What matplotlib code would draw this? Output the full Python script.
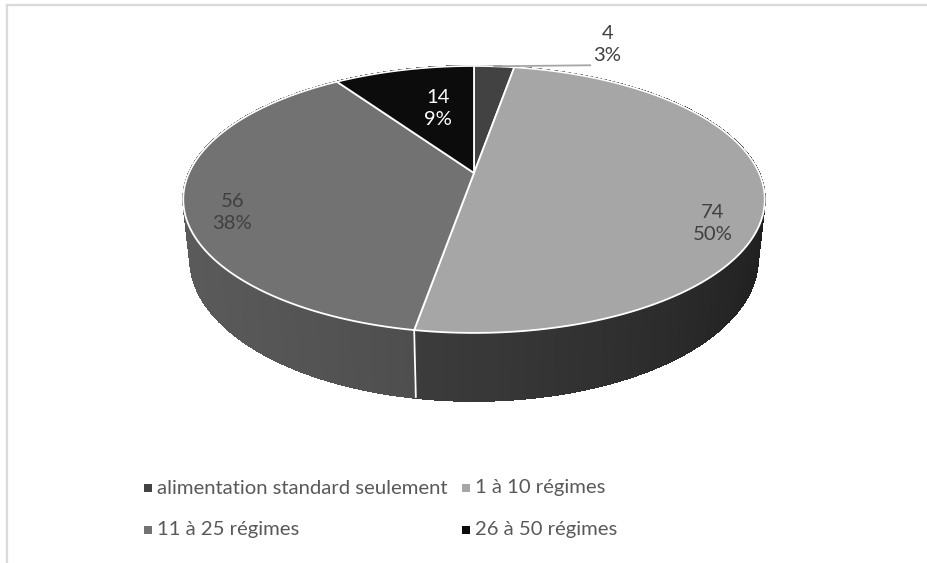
import numpy as np
import matplotlib
matplotlib.use('Agg')
import matplotlib.pyplot as plt
from matplotlib.collections import PolyCollection
from matplotlib.patches import Polygon
from matplotlib.lines import Line2D

# ---------------- data ----------------
categories = ['alimentation standard seulement', '1 à 10 régimes',
              '11 à 25 régimes', '26 à 50 régimes']
values = [4, 74, 56, 14]

# ---------------- styles ----------------
top_colors = ['#424242', '#a6a6a6', '#727272', '#0c0c0c']
side_base = [40, 50, 68, 10]          # grey level of slice side (0-255)
label_colors = ['#404040', '#404040', '#404040', 'white']
label_offsets = [(0, 0), (8, 33), (-11, 17), (22, 21)]
FONT = 'Lato'
plt.rcParams['font.family'] = [FONT, 'DejaVu Sans']

W, H = 928, 563
fig = plt.figure(figsize=(W / 100, H / 100), dpi=100)
ax = fig.add_axes([0, 0, 1, 1])
ax.set_xlim(0, W)
ax.set_ylim(H, 0)
ax.axis('off')

# 3D perspective geometry of the pie
cx, cy, R = 474, 173, 285
sinE = 0.45
E = np.arcsin(sinE)
cosE = np.cos(E)
D = cosE / 0.198
TH = 0.235


def proj(theta, r=1.0, z=0.0):
    x = r * np.sin(theta)
    y = r * np.cos(theta)
    up = y * sinE + z * cosE
    depth = y * cosE - z * sinE
    s = D / (D + depth)
    return cx + R * x * s, cy - R * up * s


total = float(sum(values))
bounds = np.concatenate([[0], np.cumsum(values)]) / total * 2 * np.pi

# ---- sides ----
quads, qcols, qdepth = [], [], []
for i in range(len(values)):
    a0, a1 = bounds[i], bounds[i + 1]
    n = max(4, int((a1 - a0) / (2 * np.pi) * 300))
    th = np.linspace(a0, a1, n + 1)
    for j in range(n):
        t0, t1 = th[j], th[j + 1]
        p = [proj(t0), proj(t1), proj(t1, 1, -TH), proj(t0, 1, -TH)]
        tm = 0.5 * (t0 + t1)
        nx, ny = np.sin(tm), np.cos(tm)
        dot = -nx * 0.96 - ny * 0.3
        g = np.clip(side_base[i] + 22 * dot, 0, 255) / 255.0
        quads.append(p)
        qcols.append((g, g, g))
        qdepth.append(np.cos(tm))
order = np.argsort(qdepth)[::-1]
pc = PolyCollection([quads[k] for k in order], facecolors=[qcols[k] for k in order],
                    edgecolors=[qcols[k] for k in order], linewidths=0.8,
                    antialiaseds=False)
ax.add_collection(pc)

# seams on the visible side
for b in bounds[1:-1]:
    if np.cos(b) < 0:
        x0, y0 = proj(b)
        x1, y1 = proj(b, 1, -TH)
        ax.plot([x0, x1], [y0, y1], color='white', lw=1.3, solid_capstyle='butt')

# ---- tops ----
for i in range(len(values)):
    a0, a1 = bounds[i], bounds[i + 1]
    th = np.linspace(a0, a1, max(3, int((a1 - a0) * 80)))
    pts = [proj(0, 0)] + [proj(t) for t in th]
    ax.add_patch(Polygon(pts, closed=True, facecolor=top_colors[i],
                         edgecolor='white', lw=1.3, joinstyle='round'))

# ---- labels ----
fs = 14.6
for i in range(len(values)):
    mid = 0.5 * (bounds[i] + bounds[i + 1])
    pct = int(round(values[i] / total * 100))
    txt = f'{values[i]}\n{pct}%'
    if i == 0:
        x0, y0 = proj(mid)
        ax.plot([x0, x0 + 96], [y0, y0 - 1], color='#a6a6a6', lw=1.3)
        ax.text(x0 + 113, y0 - 22, txt, ha='center', va='center', fontsize=fs,
                color=label_colors[i], linespacing=1.35)
    else:
        x0, y0 = proj(mid, 0.8, 0)
        dx, dy = label_offsets[i]
        ax.text(x0 + dx, y0 + dy, txt, ha='center', va='center', fontsize=fs,
                color=label_colors[i], linespacing=1.35)

# ---- legend ----
leg_x = [148, 466]
leg_y = [488, 530]
for i, cat in enumerate(categories):
    lx = leg_x[i % 2]
    ly = leg_y[i // 2]
    ax.scatter([lx], [ly], marker='s', s=28, color=top_colors[i], linewidths=0)
    ax.text(lx + 9, ly, cat, ha='left', va='center', fontsize=fs, color='#595959')

# ---- chart frame ----
ax.add_line(Line2D([7, W], [5, 5], color='#d9d9d9', lw=1.6))
ax.add_line(Line2D([7, 7], [5, H], color='#d9d9d9', lw=1.6))

fig.savefig('out.png', dpi=100, facecolor='white')
